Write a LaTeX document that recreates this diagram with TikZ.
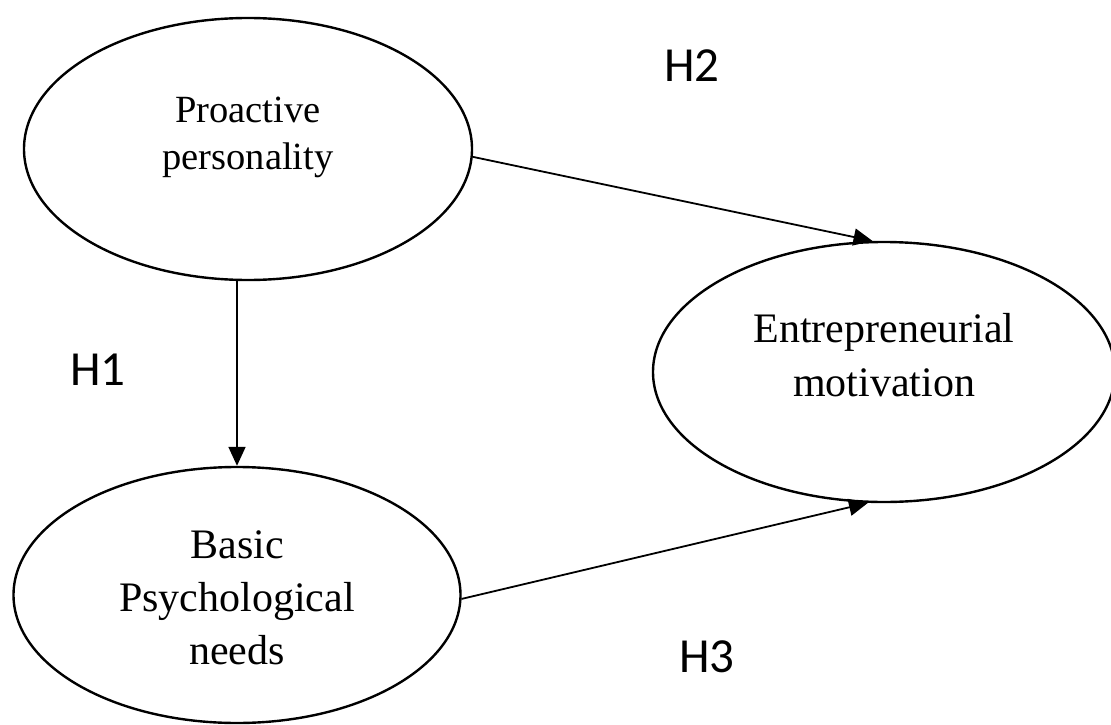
\documentclass[tikz,border=0pt]{standalone}
\usepackage{fontspec}
\setmainfont{Liberation Serif}
\newfontfamily\hypfont{Carlito}
\usetikzlibrary{arrows.meta,shapes.geometric,positioning}

\begin{document}
\begin{tikzpicture}
[x=1pt,y=-1pt,
oval/.style={ellipse,draw=black,line width=2.4pt,inner sep=0pt,minimum width=448pt,minimum height=262pt},
ovaltext/.style={align=center,inner sep=0pt,font=\fontsize{42}{53}\selectfont},
hyp/.style={inner sep=0pt,font=\hypfont\fontsize{49}{58}\selectfont},
link/.style={-{Triangle[length=19pt,width=17pt]},line width=1.8pt}]
\useasboundingbox (0,0) rectangle (1111,725);

\node[oval] (pp) at (248,149) {};
\node[oval,minimum width=447pt,minimum height=256pt] (bpn) at (237,595) {};
\node[oval,minimum width=462pt,minimum height=260pt] (em) at (884,372) {};

\node[ovaltext,font=\fontsize{38.5}{47}\selectfont] (pptext) at ([yshift=11.5pt]pp.center) {Proactive\\personality};
\node[ovaltext] (bpntext) at ([yshift=-3pt]bpn.center) {Basic\\Psychological\\needs};
\node[ovaltext,font=\fontsize{42}{54}\selectfont] (emtext) at ([yshift=16.5pt]em.center) {Entrepreneurial\\motivation};

\node[hyp] (h2) at (692,66) {H2};
\node[hyp] (h1) at (98,370) {H1};
\node[hyp] (h3) at (707,657) {H3};

\draw[link] (pp.358) -- (em.95);
\draw[link] (bpn.north |- pp.south) -- (bpn.north);
\draw[link] (bpn.359) -- (em.263);
\end{tikzpicture}
\end{document}
